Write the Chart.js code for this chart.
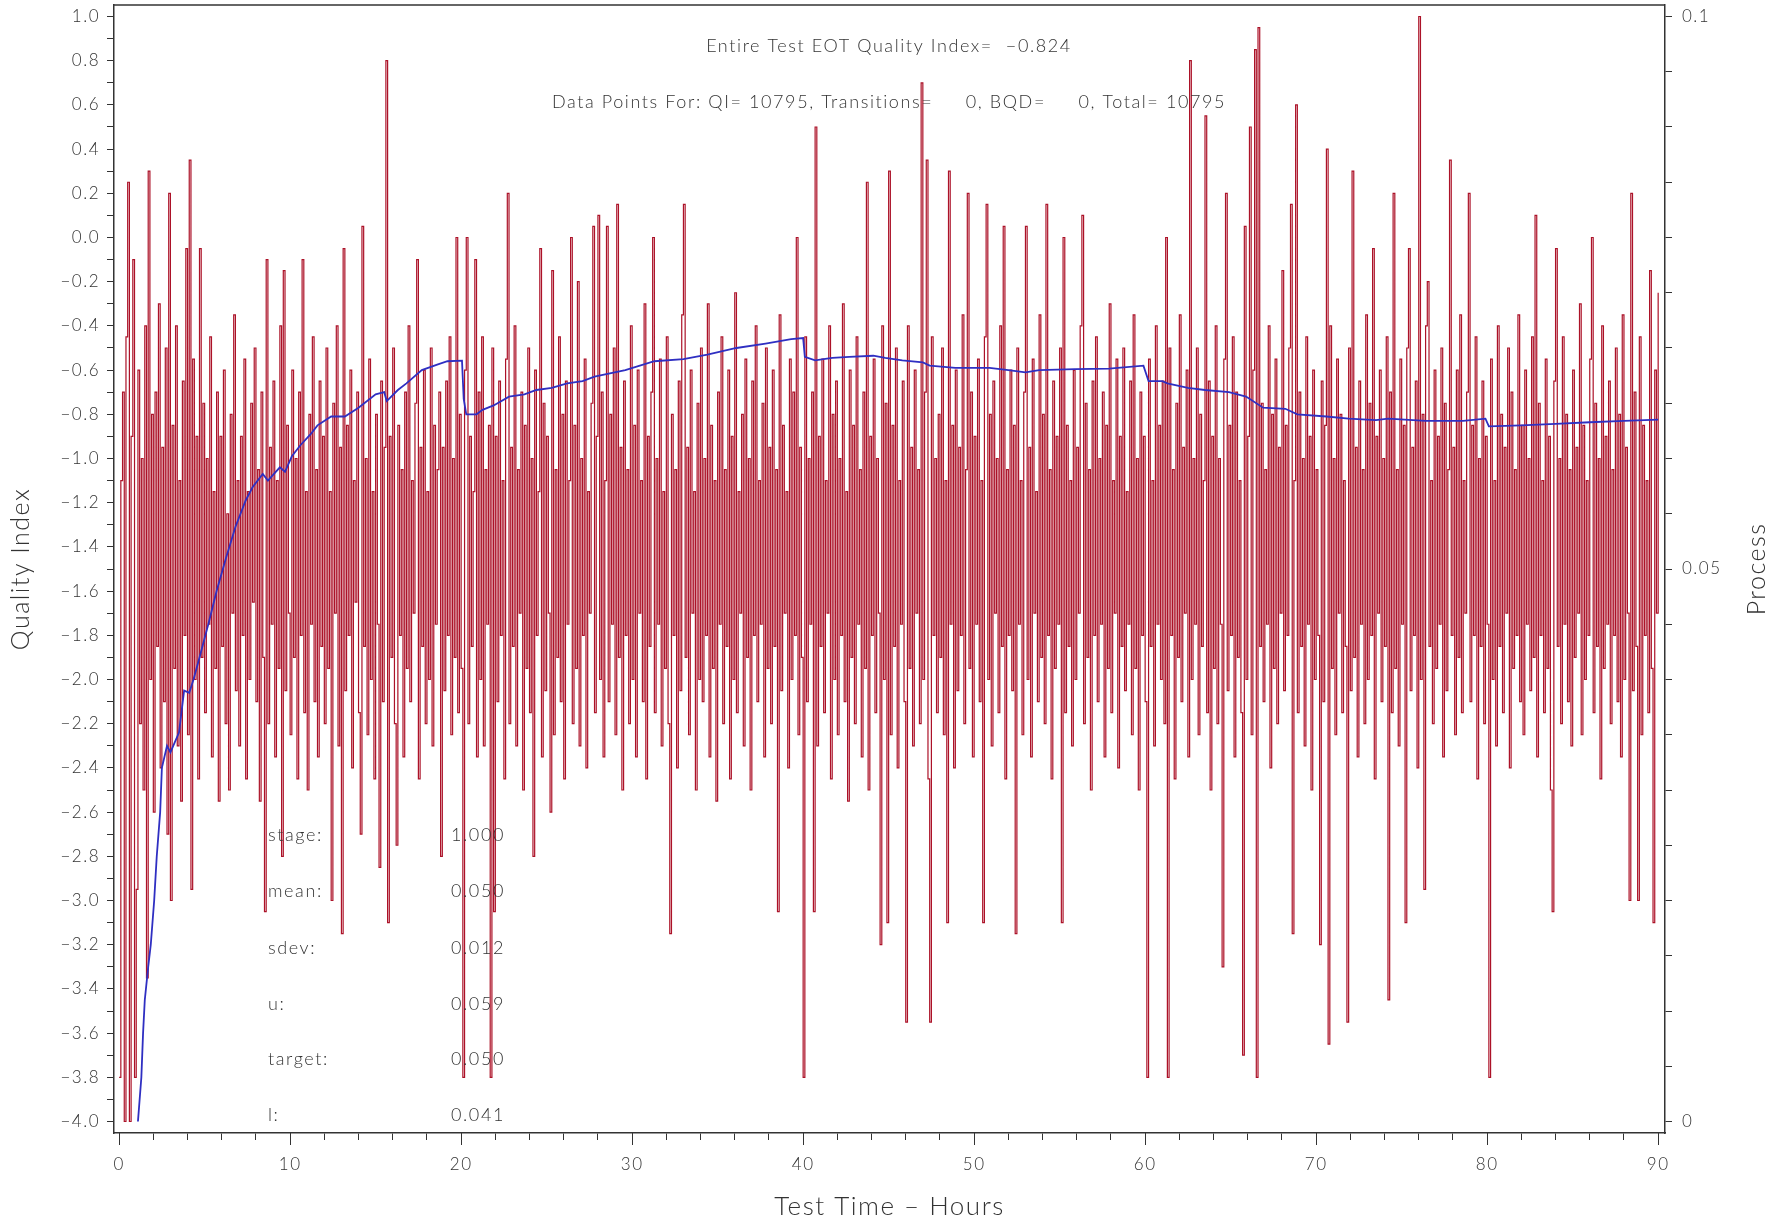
<!DOCTYPE html>
<html>
<head>
<meta charset="utf-8">
<script src="https://cdn.jsdelivr.net/npm/chart.js@4.4.1/dist/chart.umd.min.js"></script>
<style>
    html, body { margin: 0; padding: 0; background: #fff; }
    #wrap { width: 1789px; height: 1223px; }
</style>
</head>
<body>
<div id="wrap"><canvas id="qiChart"></canvas></div>
<script>
// process readings, one every sampleStep hours from 0 to 90 (right axis), one row per hour
const sampleStep = 0.1;
const processValues = [
    0.004, 0.058, 0.066, 0.000, 0.071, 0.085, 0.000, 0.062, 0.078, 0.004,
    0.021, 0.068, 0.036, 0.060, 0.030, 0.072, 0.013, 0.086, 0.040, 0.064,
    0.028, 0.066, 0.043, 0.074, 0.032, 0.061, 0.038, 0.070, 0.026, 0.084,
    0.020, 0.063, 0.041, 0.072, 0.034, 0.058, 0.029, 0.067, 0.044, 0.079,
    0.035, 0.087, 0.021, 0.069, 0.040, 0.062, 0.031, 0.079, 0.042, 0.065,
    0.037, 0.060, 0.045, 0.071, 0.033, 0.057, 0.041, 0.066, 0.029, 0.062,
    0.043, 0.068, 0.036, 0.055, 0.030, 0.064, 0.046, 0.073, 0.039, 0.058,
    0.034, 0.062, 0.044, 0.069, 0.031, 0.057, 0.040, 0.065, 0.047, 0.070,
    0.038, 0.059, 0.029, 0.066, 0.042, 0.019, 0.078, 0.036, 0.061, 0.045,
    0.067, 0.033, 0.058, 0.041, 0.072, 0.024, 0.077, 0.039, 0.063, 0.046,
    // 10 h
    0.035, 0.068, 0.042, 0.060, 0.031, 0.066, 0.044, 0.078, 0.037, 0.057,
    0.030, 0.064, 0.045, 0.071, 0.038, 0.059, 0.033, 0.067, 0.043, 0.062,
    0.036, 0.070, 0.041, 0.057, 0.020, 0.065, 0.046, 0.072, 0.034, 0.061,
    0.017, 0.079, 0.039, 0.063, 0.044, 0.068, 0.032, 0.058, 0.047, 0.066,
    0.037, 0.026, 0.081, 0.043, 0.060, 0.035, 0.069, 0.040, 0.057, 0.031,
    0.064, 0.045, 0.023, 0.067, 0.038, 0.061, 0.096, 0.018, 0.062, 0.042,
    0.070, 0.036, 0.025, 0.063, 0.044, 0.059, 0.033, 0.066, 0.041, 0.072,
    0.038, 0.058, 0.046, 0.065, 0.078, 0.031, 0.061, 0.043, 0.068, 0.036,
    0.057, 0.040, 0.070, 0.034, 0.063, 0.045, 0.059, 0.066, 0.024, 0.061,
    0.039, 0.067, 0.044, 0.071, 0.035, 0.060, 0.042, 0.080, 0.037, 0.064,
    // 20 h
    0.041, 0.004, 0.068, 0.080, 0.036, 0.062, 0.043, 0.057, 0.078, 0.033,
    0.066, 0.040, 0.071, 0.034, 0.059, 0.045, 0.063, 0.004, 0.070, 0.019,
    0.062, 0.038, 0.067, 0.044, 0.058, 0.031, 0.069, 0.084, 0.036, 0.061,
    0.043, 0.072, 0.034, 0.059, 0.046, 0.066, 0.030, 0.063, 0.041, 0.070,
    0.037, 0.060, 0.024, 0.068, 0.044, 0.057, 0.079, 0.033, 0.065, 0.039,
    0.062, 0.046, 0.028, 0.077, 0.035, 0.059, 0.042, 0.071, 0.038, 0.064,
    0.031, 0.067, 0.045, 0.058, 0.080, 0.036, 0.063, 0.041, 0.076, 0.034,
    0.060, 0.044, 0.069, 0.032, 0.057, 0.046, 0.065, 0.081, 0.037, 0.062,
    0.082, 0.040, 0.066, 0.033, 0.058, 0.081, 0.038, 0.064, 0.045, 0.070,
    0.035, 0.083, 0.042, 0.061, 0.030, 0.067, 0.044, 0.059, 0.036, 0.072,
    // 30 h
    0.040, 0.063, 0.033, 0.068, 0.046, 0.058, 0.038, 0.074, 0.031, 0.062,
    0.043, 0.066, 0.080, 0.037, 0.060, 0.045, 0.069, 0.034, 0.057, 0.041,
    0.071, 0.036, 0.017, 0.064, 0.044, 0.059, 0.032, 0.067, 0.039, 0.073,
    0.083, 0.042, 0.061, 0.035, 0.068, 0.046, 0.057, 0.030, 0.065, 0.040,
    0.070, 0.038, 0.060, 0.044, 0.074, 0.033, 0.063, 0.041, 0.058, 0.029,
    0.066, 0.045, 0.071, 0.036, 0.059, 0.043, 0.068, 0.031, 0.062, 0.040,
    0.075, 0.037, 0.057, 0.046, 0.064, 0.034, 0.069, 0.042, 0.060, 0.030,
    0.067, 0.044, 0.072, 0.038, 0.058, 0.045, 0.065, 0.033, 0.070, 0.041,
    0.061, 0.036, 0.068, 0.043, 0.059, 0.019, 0.073, 0.039, 0.063, 0.046,
    0.057, 0.032, 0.069, 0.040, 0.066, 0.044, 0.080, 0.035, 0.061, 0.042,
    // 40 h
    0.004, 0.071, 0.038, 0.060, 0.045, 0.066, 0.019, 0.090, 0.034, 0.062,
    0.043, 0.069, 0.037, 0.058, 0.046, 0.072, 0.031, 0.064, 0.040, 0.067,
    0.035, 0.060, 0.044, 0.074, 0.038, 0.057, 0.029, 0.068, 0.042, 0.063,
    0.036, 0.071, 0.045, 0.059, 0.033, 0.066, 0.041, 0.085, 0.030, 0.062,
    0.044, 0.069, 0.037, 0.060, 0.046, 0.016, 0.072, 0.040, 0.065, 0.018,
    0.086, 0.035, 0.063, 0.043, 0.070, 0.032, 0.058, 0.045, 0.067, 0.038,
    0.009, 0.072, 0.041, 0.061, 0.034, 0.068, 0.046, 0.059, 0.036, 0.094,
    0.040, 0.066, 0.087, 0.031, 0.009, 0.071, 0.044, 0.060, 0.037, 0.064,
    0.042, 0.070, 0.035, 0.058, 0.018, 0.086, 0.045, 0.063, 0.032, 0.068,
    0.039, 0.061, 0.044, 0.073, 0.036, 0.059, 0.084, 0.041, 0.066, 0.033,
    // 50 h
    0.062, 0.045, 0.069, 0.038, 0.058, 0.018, 0.071, 0.083, 0.040, 0.064,
    0.034, 0.067, 0.046, 0.060, 0.037, 0.072, 0.043, 0.081, 0.031, 0.059,
    0.044, 0.068, 0.039, 0.063, 0.017, 0.070, 0.045, 0.058, 0.035, 0.066,
    0.081, 0.040, 0.061, 0.033, 0.069, 0.046, 0.057, 0.038, 0.073, 0.042,
    0.064, 0.036, 0.083, 0.044, 0.059, 0.031, 0.067, 0.041, 0.062, 0.045,
    0.070, 0.018, 0.080, 0.037, 0.063, 0.043, 0.058, 0.034, 0.068, 0.040,
    0.061, 0.046, 0.072, 0.082, 0.036, 0.065, 0.042, 0.059, 0.030, 0.067,
    0.044, 0.071, 0.038, 0.060, 0.045, 0.066, 0.033, 0.063, 0.041, 0.074,
    0.037, 0.058, 0.046, 0.069, 0.032, 0.062, 0.043, 0.070, 0.039, 0.057,
    0.045, 0.067, 0.035, 0.073, 0.041, 0.060, 0.030, 0.066, 0.044, 0.062,
    // 60 h
    0.038, 0.004, 0.069, 0.043, 0.058, 0.034, 0.072, 0.045, 0.063, 0.040,
    0.067, 0.036, 0.080, 0.004, 0.070, 0.044, 0.059, 0.031, 0.065, 0.042,
    0.073, 0.038, 0.061, 0.046, 0.068, 0.033, 0.096, 0.040, 0.060, 0.045,
    0.070, 0.035, 0.064, 0.043, 0.058, 0.091, 0.037, 0.067, 0.030, 0.062,
    0.041, 0.072, 0.036, 0.060, 0.045, 0.014, 0.069, 0.084, 0.039, 0.063,
    0.044, 0.071, 0.033, 0.066, 0.042, 0.058, 0.037, 0.006, 0.081, 0.040,
    0.062, 0.090, 0.035, 0.068, 0.097, 0.004, 0.099, 0.043, 0.065, 0.038,
    0.059, 0.045, 0.072, 0.032, 0.064, 0.041, 0.069, 0.036, 0.061, 0.046,
    0.077, 0.039, 0.063, 0.044, 0.070, 0.083, 0.017, 0.058, 0.092, 0.037,
    0.066, 0.043, 0.060, 0.034, 0.071, 0.045, 0.062, 0.030, 0.068, 0.040,
    // 70 h
    0.059, 0.044, 0.016, 0.067, 0.038, 0.063, 0.088, 0.007, 0.072, 0.041,
    0.060, 0.035, 0.069, 0.046, 0.064, 0.037, 0.058, 0.043, 0.009, 0.070,
    0.039, 0.086, 0.042, 0.061, 0.033, 0.067, 0.045, 0.059, 0.036, 0.073,
    0.040, 0.065, 0.044, 0.079, 0.031, 0.062, 0.046, 0.068, 0.038, 0.060,
    0.043, 0.071, 0.011, 0.066, 0.037, 0.084, 0.041, 0.059, 0.034, 0.069,
    0.045, 0.063, 0.018, 0.070, 0.079, 0.039, 0.061, 0.044, 0.067, 0.032,
    0.100, 0.040, 0.064, 0.021, 0.072, 0.076, 0.043, 0.058, 0.036, 0.068,
    0.041, 0.062, 0.045, 0.070, 0.033, 0.065, 0.039, 0.059, 0.087, 0.044,
    0.061, 0.035, 0.068, 0.042, 0.073, 0.037, 0.058, 0.046, 0.066, 0.084,
    0.038, 0.063, 0.044, 0.071, 0.031, 0.060, 0.043, 0.067, 0.036, 0.062,
    // 80 h
    0.045, 0.004, 0.069, 0.040, 0.058, 0.034, 0.072, 0.043, 0.064, 0.037,
    0.061, 0.046, 0.070, 0.032, 0.066, 0.041, 0.059, 0.044, 0.073, 0.038,
    0.063, 0.035, 0.068, 0.045, 0.060, 0.039, 0.071, 0.042, 0.082, 0.033,
    0.065, 0.044, 0.058, 0.037, 0.069, 0.041, 0.062, 0.030, 0.019, 0.067,
    0.079, 0.043, 0.060, 0.036, 0.071, 0.045, 0.064, 0.038, 0.059, 0.034,
    0.068, 0.042, 0.061, 0.046, 0.074, 0.035, 0.063, 0.040, 0.058, 0.044,
    0.069, 0.080, 0.037, 0.065, 0.043, 0.060, 0.031, 0.072, 0.041, 0.062,
    0.045, 0.067, 0.036, 0.059, 0.044, 0.070, 0.038, 0.064, 0.033, 0.073,
    0.040, 0.061, 0.046, 0.020, 0.084, 0.039, 0.066, 0.043, 0.020, 0.071,
    0.035, 0.063, 0.044, 0.058, 0.037, 0.077, 0.041, 0.018, 0.068, 0.046,
    // 90 h
    0.075
];

// running quality index (left axis)
const qiHours = [
    1.1, 1.3, 1.4, 1.5, 1.7, 1.85, 2.05, 2.2, 2.4, 2.5, 2.8, 3.0, 3.5, 3.8, 4.1, 4.35, 4.7,
    5.25, 5.7, 6.25, 6.8, 7.4, 7.8, 8.4, 8.7, 9.4, 9.7, 10.1, 10.6, 11.2, 11.6, 12.4, 13.2,
    14.0, 15.0, 15.5, 15.65, 16.3, 16.8, 17.7, 18.6, 19.2, 20.05, 20.15, 20.3, 20.9, 21.25,
    21.9, 22.8, 23.7, 24.4, 25.3, 26.2, 27.1, 27.8, 29.6, 31.3, 33.0, 34.4, 36.1, 37.8, 39.3,
    40.0, 40.1, 40.7, 41.7, 42.7, 44.1, 44.8, 45.8, 47.0, 47.4, 48.9, 50.9, 52.0, 53.0, 53.8,
    55.9, 57.9, 59.9, 60.2, 61.0, 61.3, 62.5, 63.5, 64.9, 65.9, 66.9, 68.2, 68.9, 70.6, 71.9,
    73.5, 74.2, 76.4, 78.6, 79.9, 80.1, 82.0, 84.0, 86.0, 88.0, 90.0
];
const qiValues = [
    -4.0, -3.8, -3.6, -3.45, -3.3, -3.2, -3.0, -2.8, -2.6, -2.4, -2.3, -2.33, -2.24, -2.05, -2.06, -2.0, -1.9,
    -1.74, -1.6, -1.45, -1.31, -1.19, -1.13, -1.07, -1.1, -1.04, -1.06, -0.99, -0.94, -0.89, -0.85, -0.81, -0.81,
    -0.77, -0.71, -0.70, -0.74, -0.69, -0.66, -0.60, -0.575, -0.56, -0.557, -0.73, -0.80, -0.80, -0.78,
    -0.76, -0.72, -0.71, -0.69, -0.68, -0.66, -0.65, -0.63, -0.60, -0.56, -0.55, -0.53, -0.50, -0.48, -0.46,
    -0.455, -0.54, -0.556, -0.545, -0.54, -0.535, -0.545, -0.556, -0.565, -0.58, -0.59, -0.59, -0.60, -0.61, -0.60,
    -0.596, -0.593, -0.58, -0.65, -0.65, -0.66, -0.68, -0.69, -0.70, -0.72, -0.77, -0.775, -0.80, -0.81, -0.82,
    -0.826, -0.82, -0.83, -0.83, -0.82, -0.855, -0.85, -0.843, -0.836, -0.83, -0.824
];

const headerLines = [
    'Entire Test EOT Quality Index=  \u22120.824',
    'Data Points For: QI= 10795, Transitions=     0, BQD=     0, Total= 10795'
];
const statLabels = ['stage:', 'mean:', 'sdev:', 'u:', 'target:', 'l:'];
const statValues = ['1.000', '0.050', '0.012', '0.059', '0.050', '0.041'];

const textColor = '#333';
const fontFamily = 'Lato, "DejaVu Sans", sans-serif';
const letterGap = '1.5px';

Chart.defaults.font.family = fontFamily;
Chart.defaults.font.weight = '300';
Chart.defaults.color = textColor;

function minus(s) {
    return s.replace('-', '\u2212');
}

// wide letter spacing like the plotter font of the original
const spacing = {
    id: 'spacing',
    beforeLayout(chart) { chart.ctx.letterSpacing = letterGap; },
    beforeDraw(chart) { chart.ctx.letterSpacing = letterGap; }
};

// labels, extra tick length, top frame line, right axis title
const overlay = {
    id: 'overlay',
    afterDraw(chart) {
        const ctx = chart.ctx;
        const area = chart.chartArea;
        const xs = chart.scales.x;
        ctx.save();
        ctx.strokeStyle = textColor;
        ctx.lineWidth = 1.5;
        ctx.beginPath();
        ctx.moveTo(area.left, area.top);
        ctx.lineTo(area.right, area.top);
        ctx.stroke();

        ctx.lineWidth = 1;
        xs.ticks.forEach(t => {
            if (Math.round(t.value) % 10 === 0) {
                const px = Math.round(xs.getPixelForValue(t.value)) + 0.5;
                ctx.beginPath();
                ctx.moveTo(px, area.bottom);
                ctx.lineTo(px, area.bottom + 12);
                ctx.stroke();
            }
        });

        ctx.fillStyle = textColor;
        ctx.letterSpacing = '1.6px';
        ctx.textBaseline = 'middle';
        ctx.font = '300 18px ' + fontFamily;
        ctx.textAlign = 'center';
        ctx.fillText(headerLines[0], 889, 46);
        ctx.fillText(headerLines[1], 889, 102);

        ctx.textAlign = 'left';
        const rowY = [835, 891, 948, 1004, 1059, 1115];
        statLabels.forEach((lab, i) => {
            ctx.fillText(lab, 268, rowY[i]);
            ctx.fillText(statValues[i], 451, rowY[i]);
        });

        ctx.letterSpacing = letterGap;
        ctx.font = '300 25px ' + fontFamily;
        ctx.translate(1757, 569);
        ctx.rotate(-Math.PI / 2);
        ctx.textAlign = 'center';
        ctx.fillText('Process', 0, 0);
        ctx.restore();
    }
};

const processData = processValues.map((v, i) => ({ x: i * sampleStep, y: v }));
const qiData = qiHours.map((h, i) => ({ x: h, y: qiValues[i] }));

const tickFont = { size: 17, weight: '300' };

new Chart(document.getElementById('qiChart'), {
    type: 'line',
    data: {
        datasets: [{
            label: 'Quality Index',
            data: qiData,
            yAxisID: 'y',
            borderColor: '#2f2fc2',
            borderWidth: 1.8,
            pointRadius: 0,
            tension: 0,
            order: 0,
        }, {
            label: 'Process',
            data: processData,
            yAxisID: 'y1',
            borderColor: 'rgb(172, 18, 40)',
            borderWidth: 1.2,
            pointRadius: 0,
            stepped: true,
            order: 1,
        }]
    },
    options: {
        responsive: true,
        maintainAspectRatio: false,
        animation: false,
        layout: {
            padding: { top: 5, left: 0, right: 0, bottom: 0 }
        },
        plugins: {
            legend: { display: false },
            tooltip: { enabled: false },
        },
        scales: {
            x: {
                type: 'linear',
                min: -0.3,
                max: 90.4,
                border: { color: textColor, width: 1.5 },
                grid: { drawOnChartArea: false, tickLength: 7, tickColor: textColor },
                ticks: {
                    stepSize: 2,
                    autoSkip: false,
                    includeBounds: false,
                    maxRotation: 0,
                    padding: 14,
                    font: tickFont,
                    callback: v => (Math.round(v) % 10 === 0 ? String(Math.round(v)) : '')
                },
                title: {
                    display: true,
                    text: 'Test Time \u2013 Hours',
                    font: { size: 26, weight: '300' },
                    padding: { top: 0, bottom: 1 }
                },
                afterFit: s => { s.height = 90; s.paddingLeft = 0; s.paddingRight = 0; }
            },
            y: {
                position: 'left',
                min: -4.052,
                max: 1.052,
                border: { color: textColor, width: 1.5 },
                grid: { drawOnChartArea: false, tickLength: 7, tickColor: textColor },
                ticks: {
                    stepSize: 0.1,
                    autoSkip: false,
                    includeBounds: false,
                    maxTicksLimit: 1000,
                    padding: 7,
                    font: tickFont,
                    callback: v => {
                        const k = Math.round(v * 10);
                        if (k % 2 !== 0) return '';
                        return k === 0 ? '0.0' : minus((k / 10).toFixed(1));
                    }
                },
                title: {
                    display: true,
                    text: 'Quality Index',
                    font: { size: 25, weight: '300' },
                    padding: { top: 6, bottom: 0 }
                },
                afterFit: s => { s.width = 114; s.paddingTop = 0; s.paddingBottom = 0; }
            },
            y1: {
                position: 'right',
                min: -0.00104,
                max: 0.10104,
                border: { color: textColor, width: 1.5 },
                grid: { drawOnChartArea: false, tickLength: 7, tickColor: textColor },
                ticks: {
                    stepSize: 0.005,
                    autoSkip: false,
                    includeBounds: false,
                    maxTicksLimit: 1000,
                    padding: 10,
                    font: tickFont,
                    callback: v => {
                        const k = Math.round(v * 1000);
                        if (k % 50 !== 0) return '';
                        return String(k / 1000);
                    }
                },
                afterFit: s => { s.width = 124; s.paddingTop = 0; s.paddingBottom = 0; }
            }
        }
    },
    plugins: [spacing, overlay]
});
</script>
</body>
</html>
